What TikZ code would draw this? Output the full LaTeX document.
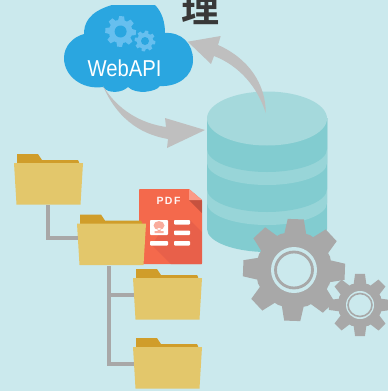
\documentclass[tikz,border=0pt]{standalone}
\usepackage{fontspec}
\setmainfont{Liberation Sans}
\newfontfamily\cjk{Noto Sans CJK SC}[BoldFont={Noto Sans CJK SC Bold}]
\definecolor{bgc}{HTML}{CBE9ED}
\definecolor{cloudc}{HTML}{2AA6E0}
\definecolor{gearb}{HTML}{66BFEF}
\definecolor{arrowc}{HTML}{BFBFBF}
\definecolor{dbtop}{HTML}{A5D9DC}
\definecolor{dbside}{HTML}{82CCD0}
\definecolor{dbband}{HTML}{98D5D8}
\definecolor{graygear}{HTML}{A8A8A8}
\definecolor{fbody}{HTML}{E3C76B}
\definecolor{ftab}{HTML}{D09D2A}
\definecolor{pdfc}{HTML}{F4694C}
\definecolor{pdfs}{HTML}{E8604A}
\definecolor{pdff}{HTML}{FB9A86}
\tikzset{
  treeline/.style={draw=graygear,line width=4pt,line cap=butt,line join=miter},
  bigarrow/.style={fill=arrowc,draw=none},
}
% cx cy outer root rot teeth colour
\newcommand{\gearshape}[7]{%
  \begin{scope}[shift={(#1,#2)}]
  \fill[#7] (#5+360/#6*0.37:#4)
  \foreach \k in {1,...,#6}{
    -- (#5+\k*360/#6-360/#6*0.37:#4)
    -- (#5+\k*360/#6-360/#6*0.20:#3)
    -- (#5+\k*360/#6+360/#6*0.20:#3)
    -- (#5+\k*360/#6+360/#6*0.37:#4)
    -- (#5+\k*360/#6+360/#6*0.50:#4+0.4)
  } -- cycle;
  \end{scope}
}
\newcommand{\folderat}[3]{% name, x, y of top-left of body
  \begin{scope}[shift={(#2,#3)}]
    \fill[ftab] (3,2) -- (3,-9) -- (24,-9) -- (28,-3) -- (64,-3) -- (65,-1) -- (65,2) -- cycle;
    \fill[fbody] (0,0) -- (69,0) -- (66.5,41.5) -- (2.5,41.5) -- cycle;
    \node[inner sep=0pt,minimum size=0pt] (#1) at (34.5,20.75) {};
  \end{scope}
}
% y of the flat edge, arc height, colour
\newcommand{\dblayer}[3]{\fill[#3] (207,118) -- (207,#1) arc[start angle=180,end angle=0,x radius=60,y radius=#2] -- (327,118) -- cycle;}
\begin{document}
\begin{tikzpicture}[x=1pt,y=-1pt]
\useasboundingbox (0,0) rectangle (388,391);
\fill[bgc] (0,0) rectangle (388,391);
\node[font=\cjk\bfseries,text=black!78,inner sep=0pt] (title) at (200.5,8.5) {\fontsize{38}{38}\selectfont 理};
% database
\dblayer{229}{23}{dbside}
\dblayer{203}{22}{dbband}
\dblayer{189}{23}{dbside}
\dblayer{163}{22}{dbband}
\dblayer{149}{23}{dbside}
\fill[dbtop] (267,118.5) ellipse[x radius=60,y radius=27];
\coordinate (dbt) at (265.7,113);
\coordinate (dbl) at (205,130);
% cloud
\fill[cloudc] (64,58)
  .. controls (64,46) and (73,37) .. (84,34)
  .. controls (84,24) and (88,12) .. (112,5)
  -- (155,5)
  .. controls (162,12) and (165,22) .. (165,33)
  .. controls (182,32) and (193,44) .. (193,60)
  .. controls (193,76) and (178,87) .. (160,86)
  .. controls (156,92) and (136,95) .. (128,87)
  .. controls (122,93) and (108,94) .. (103,87)
  .. controls (82,90) and (64,76) .. (64,58) -- cycle;
\coordinate (cloudb) at (103,86);
\coordinate (cloudr) at (187.7,41.7);
\gearshape{120.6}{31.5}{15.5}{11.5}{4}{8}{gearb}
\fill[cloudc] (120.6,31.5) circle[radius=6];
\gearshape{145}{41}{10.5}{7.8}{10}{8}{gearb}
\fill[cloudc] (145,41) circle[radius=4];
\node[font=\fontsize{23}{23}\selectfont,text=white,inner sep=0pt,xscale=0.88] (api) at (124.5,68.5) {WebAPI};
% arrows
\fill[bigarrow] (cloudb) .. controls (118,110) and (140,123) .. (166,127) -- (165,118) -- (dbl) -- (167,148) -- (168,139) .. controls (138,134) and (116,116) .. (cloudb) -- cycle;
\fill[bigarrow] (dbt) .. controls (258,88) and (240,66) .. (214,56) -- (211,64) -- (cloudr) -- (220.7,36) -- (218,45) .. controls (248,58) and (266,84) .. (dbt) -- cycle;
% PDF
\fill[pdfc,rounded corners=0.8pt] (139,189) -- (189,189) -- (202,200) -- (202,264) -- (139,264) -- cycle;
\begin{scope}
\clip (139,189) -- (189,189) -- (202,200) -- (202,264) -- (139,264) -- cycle;
\fill[pdfs] (152,245) -- (168,220) -- (190,220) -- (202,232) -- (202,264) -- (171,264) -- cycle;
\fill[pdfs!85!black] (189,200) -- (202,200) -- (202,213) -- cycle;
\end{scope}
\fill[pdff] (189,189) -- (202,200) -- (189,200) -- cycle;
\node[font=\bfseries\fontsize{10.5}{10.5}\selectfont\addfontfeature{LetterSpace=14},text=white!92!pdfc,inner sep=0pt] (pdfl) at (168.5,201) {PDF};
\fill[white,rounded corners=0.8pt] (150,220) rectangle (168,235);
\fill[pdfc!55!white] (159,225.5) ellipse[x radius=5.5,y radius=4.5] (157.5,228) rectangle (160.5,232.5) (154.5,231) rectangle (163.5,233);
\fill[white,rounded corners=0.8pt] (174,220) rectangle (190,224.5) (174,230.5) rectangle (190,235) (150,241) rectangle (168,245.5) (174,241) rectangle (190,245.5);
% tree
\folderat{fa}{14}{163}
\folderat{fb}{77}{223.5}
\folderat{fc}{133}{278}
\folderat{fd}{133}{347}
\coordinate (j1) at (48,238);
\coordinate (j2) at (108.5,295);
\coordinate (j3) at (108.5,364);
\coordinate (s1) at (48,205);
\coordinate (s2) at (108.5,266);
\coordinate (e1) at (78,238);
\coordinate (e2) at (134,295);
\coordinate (e3) at (134,364);
\draw[treeline] (s1) -- (j1) -- (e1);
\draw[treeline] (s2) -- (j2) -- (j3) -- (e3);
\draw[treeline] (j2) -- (e2);
% gears
\gearshape{294}{270}{51.5}{38}{2}{8}{graygear}
\fill[bgc] (294,270) circle[radius=23];
\draw[graygear,line width=2.8pt] (294,270) ellipse[x radius=18.5,y radius=18];
\gearshape{360}{305}{31.5}{22}{0}{8}{graygear}
\fill[bgc] (360,305) circle[radius=14];
\draw[graygear,line width=1.6pt] (360,305) ellipse[x radius=12,y radius=11.5];
\end{tikzpicture}
\end{document}
